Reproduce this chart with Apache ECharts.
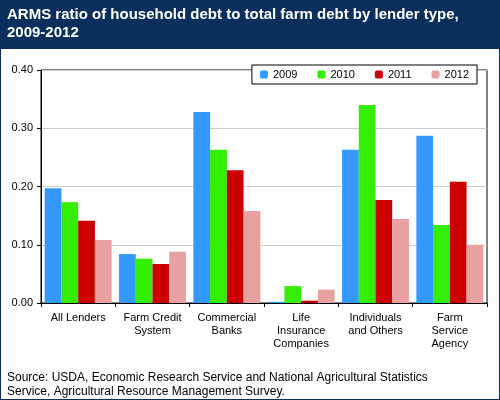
<!DOCTYPE html>
<html>
<head>
<meta charset="utf-8">
<script src="https://cdn.jsdelivr.net/npm/echarts@6/dist/echarts.min.js"></script>
<style>
body{margin:0;background:#fff;}
#wrap{width:498px;height:398px;border:1px solid #0a2f5c;position:relative;}
#main{width:498px;height:398px;}
</style>
</head>
<body>
<div id="wrap"><div id="main"></div></div>
<script>
var categories = ['All Lenders', 'Farm Credit\nSystem', 'Commercial\nBanks', 'Life\nInsurance\nCompanies', 'Individuals\nand Others', 'Farm\nService\nAgency'];
var years = ['2009', '2010', '2011', '2012'];
var colors = ['#3399ff', '#33ee00', '#cc0000', '#e8a0a0'];
var v2009 = [0.197, 0.084, 0.328, 0.002, 0.263, 0.287];
var v2010 = [0.173, 0.076, 0.263, 0.029, 0.340, 0.134];
var v2011 = [0.141, 0.067, 0.228, 0.004, 0.177, 0.208];
var v2012 = [0.108, 0.088, 0.158, 0.023, 0.144, 0.100];
var values = [v2009, v2010, v2011, v2012];

var chart = echarts.init(document.getElementById('main'));
chart.setOption({
    animation: false,
    textStyle: { fontFamily: 'Arial, Liberation Sans, sans-serif' },
    graphic: [
        { type: 'rect', left: 0, top: 0, shape: { width: 498, height: 48 }, style: { fill: '#0a2f5c' } },
        { type: 'text', left: 6, top: 5, style: { text: 'ARMS ratio of household debt to total farm debt by lender type,\n2009-2012', fill: '#fff', font: 'bold 15px Arial, Liberation Sans, sans-serif', lineHeight: 18 } },
        { type: 'text', left: 6, top: 370, style: { text: 'Source: USDA, Economic Research Service and National Agricultural Statistics\nService, Agricultural Resource Management Survey.', fill: '#000', font: '12px Arial, Liberation Sans, sans-serif', lineHeight: 14 } }
    ],
    legend: {
        right: 22, top: 64, itemWidth: 8, itemHeight: 8, itemGap: 20,
        backgroundColor: '#fff', borderColor: '#000', borderWidth: 1, padding: [4, 8],
        textStyle: { fontSize: 11, color: '#000' },
        data: years
    },
    grid: { left: 40, right: 12, top: 69, bottom: 96, show: true, borderColor: '#000', borderWidth: 1 },
    xAxis: {
        type: 'category', data: categories,
        axisLine: { lineStyle: { color: '#000' } },
        axisTick: { show: true, alignWithLabel: false, length: 4, lineStyle: { color: '#000' } },
        axisLabel: { color: '#000', fontSize: 11, interval: 0, lineHeight: 13 }
    },
    yAxis: {
        type: 'value', min: 0, max: 0.4, interval: 0.1,
        axisLine: { show: true, lineStyle: { color: '#000' } },
        axisTick: { show: true, length: 4, lineStyle: { color: '#000' } },
        splitLine: { lineStyle: { color: '#ccc' } },
        axisLabel: { color: '#000', fontSize: 11, formatter: function (v) { return v.toFixed(2); } }
    },
    series: years.map(function (y, i) {
        return { name: y, type: 'bar', data: values[i], barGap: '0%', barCategoryGap: '10%', itemStyle: { color: colors[i] } };
    })
});
</script>
</body>
</html>
